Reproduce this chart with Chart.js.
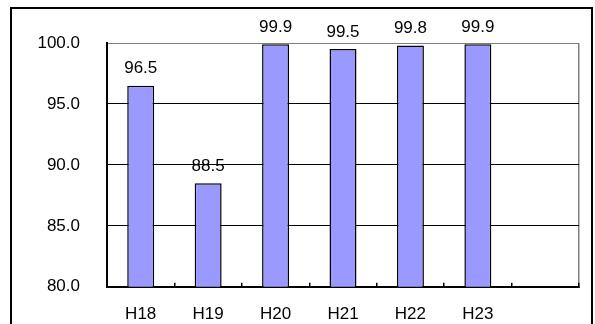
<!DOCTYPE html>
<html>
<head>
<meta charset="utf-8">
<script src="https://cdn.jsdelivr.net/npm/chart.js@4"></script>
<style>
  html, body { margin: 0; padding: 0; background: #fff; overflow: hidden; }
  #wrap { position: relative; width: 595px; height: 324px; }
  #frame { position: absolute; left: 10px; top: 7px; width: 583px; height: 330px; border: 2px solid #000; box-sizing: border-box; }
  canvas { position: absolute; left: 0; top: 0; }
</style>
</head>
<body>
<div id="wrap">
  <div id="frame"></div>
  <canvas id="chart" width="595" height="324"></canvas>
</div>
<script>
// categories (last slot is empty in the original)
const labels = ['H18', 'H19', 'H20', 'H21', 'H22', 'H23', ''];
const values = [96.5, 88.5, 99.9, 99.5, 99.8, 99.9, null];
const yTicks = [80, 85, 90, 95, 100];

const FONT = { family: 'Liberation Sans', size: 17 };

// value labels above each bar
const barLabels = {
  id: 'barLabels',
  afterDatasetsDraw(chart) {
    const ctx = chart.ctx;
    const meta = chart.getDatasetMeta(0);
    ctx.save();
    ctx.font = FONT.size + 'px ' + FONT.family;
    ctx.fillStyle = '#000';
    ctx.textAlign = 'center';
    ctx.textBaseline = 'middle';
    meta.data.forEach((bar, i) => {
      if (values[i] == null) return;
      ctx.fillText(values[i].toFixed(1), bar.x, bar.y - 17);
    });
    ctx.restore();
  }
};

const ctx1 = document.getElementById('chart').getContext('2d');
new Chart(ctx1, {
  type: 'bar',
  data: {
    labels: labels,
    datasets: [{
      data: values,
      backgroundColor: '#9999FF',
      borderColor: '#000',
      borderWidth: 1.5,
      borderSkipped: false,
      categoryPercentage: 1,
      barPercentage: 0.4
    }]
  },
  options: {
    responsive: false,
    animation: false,
    layout: { padding: { left: 0, right: 16, top: 43, bottom: 0 } },
    plugins: {
      legend: { display: false },
      tooltip: { enabled: false }
    },
    scales: {
      x: {
        afterFit: (s) => { s.height = 36; },
        grid: {
          offset: true,
          drawOnChartArea: true,
          color: (c) => (c.type === 'scale' ? '#808080' : 'rgba(0,0,0,0)'),
          tickColor: '#000',
          tickLength: -4,
          lineWidth: 1.5
        },
        border: { color: '#000', width: 2 },
        ticks: { color: '#000', font: FONT, padding: 21 }
      },
      y: {
        min: 80,
        max: 100,
        afterFit: (s) => { s.width = 107; },
        afterBuildTicks: (s) => { s.ticks = yTicks.map(v => ({ value: v })); },
        grid: {
          drawTicks: false,
          color: (c) => (c.tick && c.tick.value === 100 ? '#808080' : '#000'),
          lineWidth: 1
        },
        border: { color: '#000', width: 2 },
        ticks: {
          color: '#000',
          font: FONT,
          padding: 27,
          callback: (v) => Number(v).toFixed(1)
        }
      }
    }
  },
  plugins: [barLabels]
});
</script>
</body>
</html>
